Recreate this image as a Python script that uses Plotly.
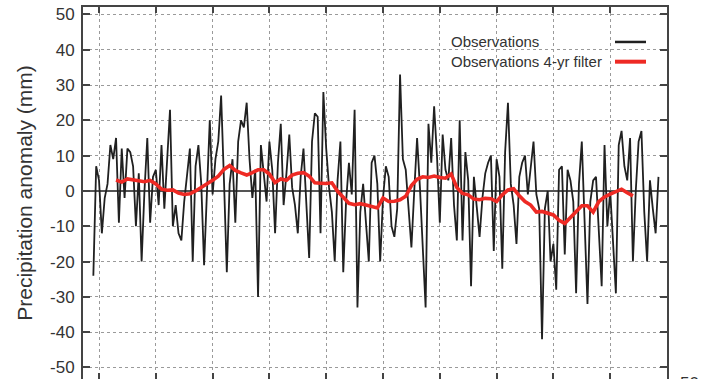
import numpy as np
import plotly.graph_objects as go

# ---- data ----
obs_start_year = 1959.5      # first seasonal value
obs_step = 0.25              # seasonal resolution (years)
obs_anomaly = [
    -24, 7, 3, -12, -2, 2, 13, 9, 15, -9, 12, -2, 12, 11, 7, -10, 5, -20, 0, 15,
    -9, 4, 6, -4, 13, -5, 9, 23, -10, -4, -12, -14, -3,
    4, 12, -20, 7, 13, 2, -21, -1, 20, -1, 9, 14, 27, 3, -23, 2, 9, -9, 14, 20,
    18, 25, 9, -2, 6, -30, 13, 5, -3, 14, 6, -12, 8,
    19, -4, 5, 16, 1, -4, -12, 4, 12, -2, -19, 14, 22, 21, -12, 28, 12, 1, -6, -20,
    3, 14, -23, -3, 8, -1, 23, -33, -6, 2, -8, -20, 8, 10,
    2, -20, -2, 7, 4, -10, -13, -5, 33, 9, 6, -6, -16, 0, 15, 1, -15, -33, 19, 8,
    24, 10, -9, 16, 6, 3, 15, -4, -14, 20, -14, 11, 3,
    -27, 4, -5, -13, -2, 5, 8, 10, -17, 9, 4, -22, 11, 25, 2, -4, -15, 4, 8, 10,
    -1, 6, 14, -1, -5, -42, -5, 0, -20, -15, -28, 6, 7, -18,
    6, 3, -3, -29, 2, 14, -10, -32, -3, 3, 4, -10, -27, 13, -10, 0, -16, -29, 13, 17,
    7, 3, 15, -20, 0, 14, 17, -6, -20, 3, -5, -12, 4,
]

filt_start_year = 1961.5
filt_step = 0.5
filt_anomaly = [
    3.1, 2.5, 3.4, 3.1, 2.9, 2.6, 3.0, 2.0, 0.5, 0.2,
    0.3, -0.6, -1.0, -0.8, 0.0, 1.0, 1.8, 3.0, 4.2, 6.1,
    7.2, 5.8, 5.1, 4.5, 5.2, 6.0, 6.0, 4.8, 2.4, 3.4,
    3.0, 4.5, 5.0, 5.2, 4.2, 2.3, 2.2, 2.1, 2.3, -0.1,
    -1.8, -3.5, -3.9, -3.6, -4.0, -4.4, -4.8, -2.0, -3.0, -2.9,
    -2.5, -1.5, 1.5, 3.3, 4.0, 3.8, 4.2, 3.8, 3.6, 4.8,
    1.0, -0.7, -1.1, -2.3, -2.5, -2.1, -2.2, -3.0, -1.1, 0.3,
    0.6, -1.4, -3.0, -4.0, -6.0, -5.8, -6.3, -6.8, -8.3, -9.2,
    -7.5, -6.0, -4.2, -4.2, -6.0, -3.0, -1.7, -0.9, -0.2, 0.5,
    -0.5, -1.4,
]

x_grid_years = [1960, 1965, 1970, 1975, 1980, 1985, 1990, 1995, 2000, 2005, 2010]
y_ticks = [50, 40, 30, 20, 10, 0, -10, -20, -30, -40, -50]
legend_labels = ["Observations", "Observations 4-yr filter"]
y_title = "Precipitation anomaly (mm)"

obs_years = obs_start_year + obs_step * np.arange(len(obs_anomaly))
filt_years = filt_start_year + filt_step * np.arange(len(filt_anomaly))

BLACK = "#202020"
RED = "#ee2a24"
TXT = "#333333"

fig = go.Figure()
fig.add_trace(go.Scatter(x=obs_years, y=obs_anomaly, mode="lines",
                         line=dict(color=BLACK, width=1.8), name=legend_labels[0],
                         showlegend=False))
fig.add_trace(go.Scatter(x=filt_years, y=filt_anomaly, mode="lines",
                         line=dict(color=RED, width=3.6), name=legend_labels[1],
                         showlegend=False))

# legend drawn in the reference style (text left, line sample right)
leg_y = [0.906, 0.853]
leg_col = [BLACK, RED]
leg_w = [2.5, 4]
for lbl, yy, c, w in zip(legend_labels, leg_y, leg_col, leg_w):
    fig.add_annotation(x=0.626, y=yy, xref="paper", yref="paper", text=lbl,
                       showarrow=False, xanchor="left", yanchor="middle",
                       font=dict(family="Liberation Sans, Arial", size=15, color=TXT))
    fig.add_shape(type="line", xref="paper", yref="paper", x0=0.911, x1=0.964,
                  y0=yy, y1=yy, line=dict(color=c, width=w))

# cut-off label at the bottom right of the crop
fig.add_annotation(x=1.038, y=0.019, xref="paper", yref="paper", text="50",
                   showarrow=False, xanchor="center", yanchor="top",
                   font=dict(family="Liberation Sans, Arial", size=17, color=TXT))

fig.update_layout(
    width=706, height=379,
    margin=dict(l=83, r=39, t=7, b=0, autoexpand=False),
    paper_bgcolor="white", plot_bgcolor="white",
    showlegend=False,
    font=dict(family="Liberation Sans, Arial", color=TXT),
)
fig.update_xaxes(
    range=[1958.59, 2010.0], tickvals=x_grid_years, showticklabels=False,
    showgrid=True, gridcolor="#9a9a9a", griddash="dot", gridwidth=1,
    ticks="inside", ticklen=6, tickwidth=2, tickcolor="#444",
    showline=True, linecolor="#444", linewidth=2, mirror="ticks",
    zeroline=False, automargin=False,
)
fig.update_yaxes(
    range=[-53.26, 52.1], tickvals=y_ticks, ticktext=[str(v) for v in y_ticks],
    tickfont=dict(size=17, color=TXT),
    showgrid=True, gridcolor="#9a9a9a", griddash="dot", gridwidth=1,
    ticks="inside", ticklen=7, tickwidth=2, tickcolor="#444",
    showline=True, linecolor="#444", linewidth=2, mirror="ticks",
    zeroline=True, zerolinecolor="#555", zerolinewidth=2,
    title=dict(text=y_title, font=dict(size=21, color=TXT), standoff=12),
    ticklabelstandoff=3, automargin=False,
)

fig.write_html(
    "out.html",
    config={"displayModeBar": False},
    post_script="document.body.style.margin='0';document.body.style.overflow='hidden';",
)
